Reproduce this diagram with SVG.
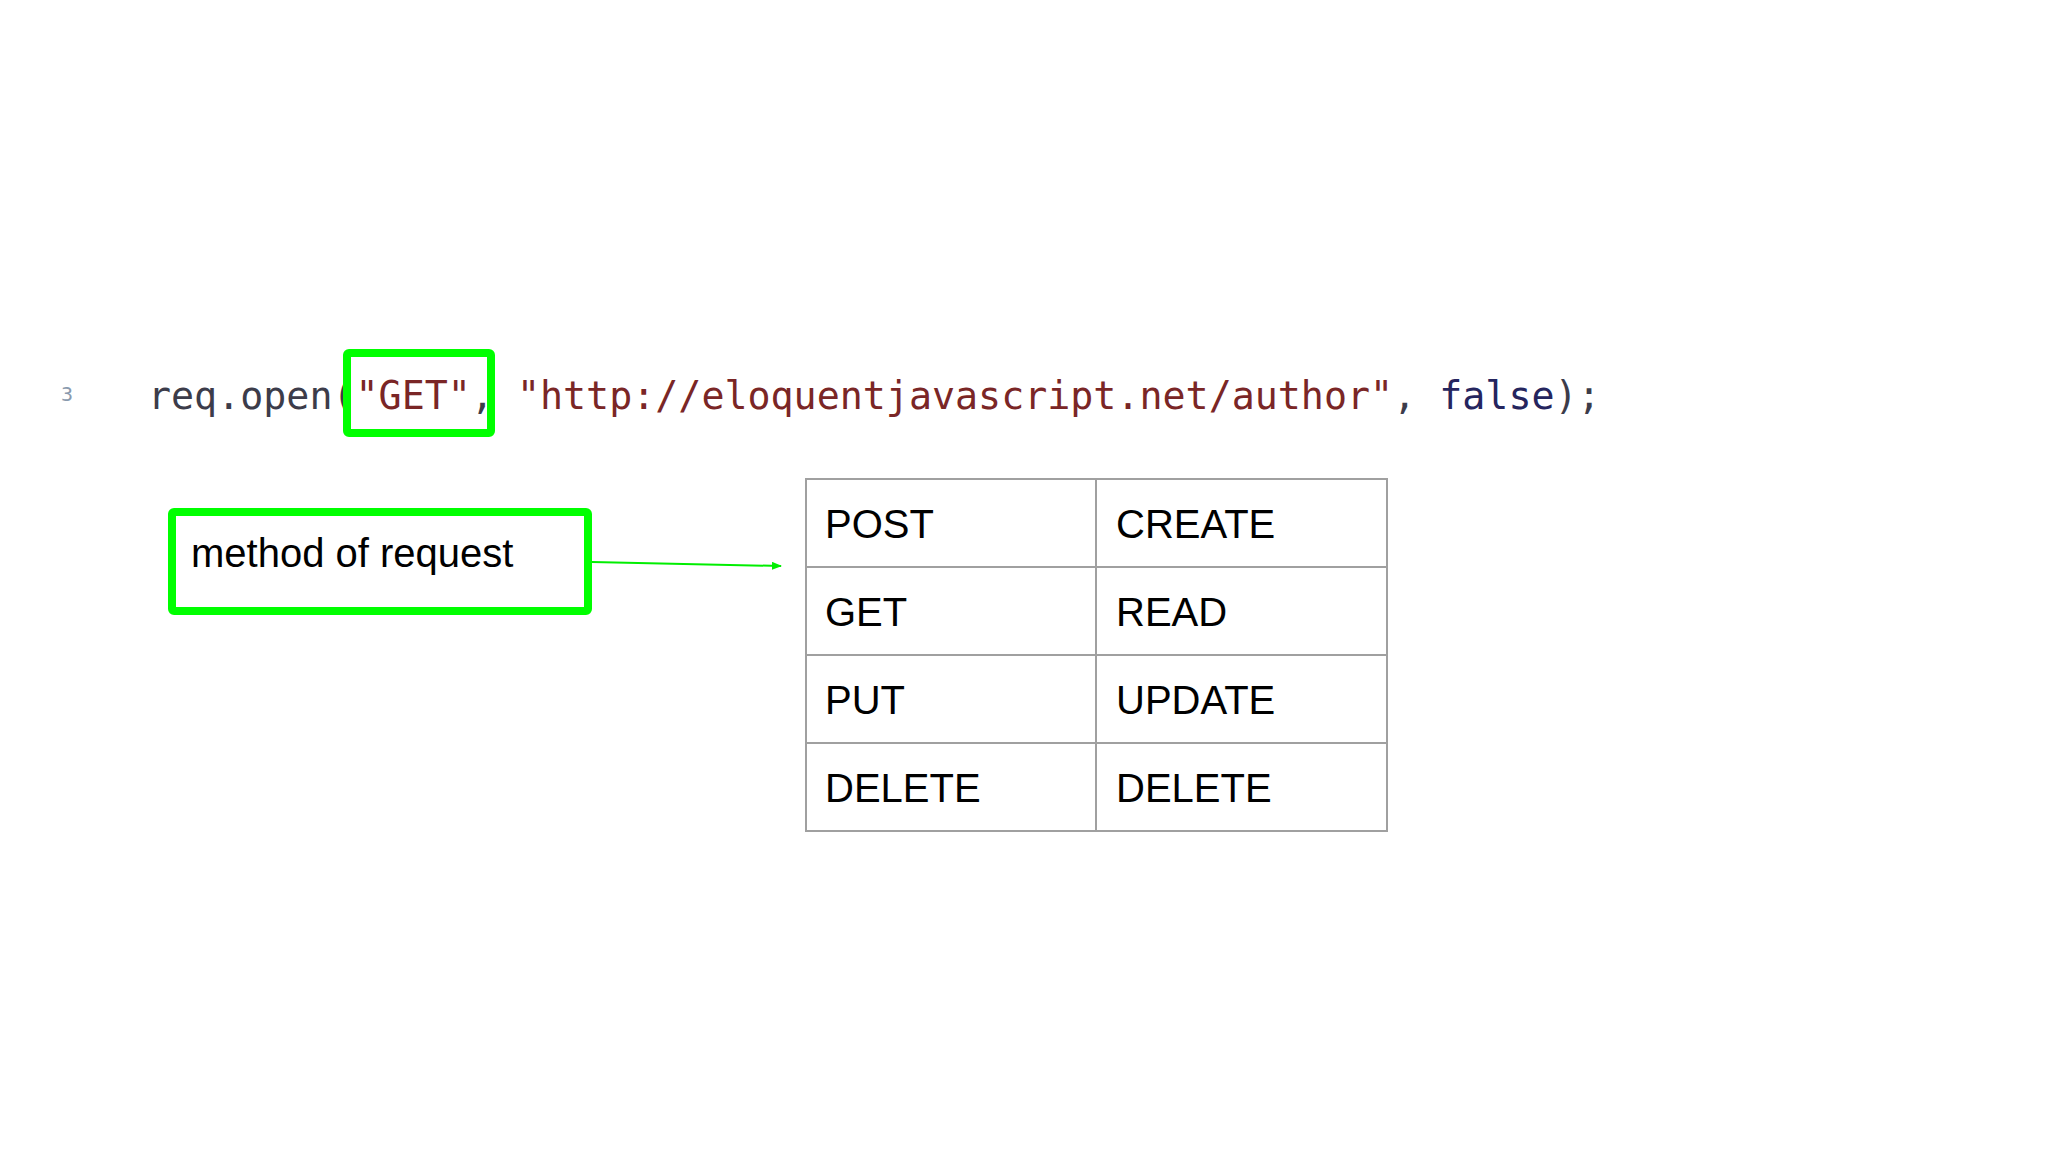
<svg xmlns="http://www.w3.org/2000/svg" width="2048" height="1152" viewBox="0 0 2048 1152">
  <style>
    .code { font-family: "DejaVu Sans Mono", "Liberation Mono", monospace; font-size: 38.3px; }
    .plain { fill: #3c3c4a; }
    .str { fill: #7a2626; }
    .kw { fill: #25255e; }
    .lbl { font-family: "Liberation Sans", Arial, sans-serif; font-size: 40px; fill: #000000; }
    .hl { fill: none; stroke: #00ff00; stroke-width: 8; }
    .cell { fill: #ffffff; stroke: #a0a0a0; stroke-width: 2; }
  </style>
  <defs>
    <marker id="arrow" markerWidth="10" markerHeight="8" refX="9" refY="4" orient="auto" markerUnits="userSpaceOnUse">
      <path d="M0,0 L10,4 L0,8 Z" fill="#00ee00"/>
    </marker>
  </defs>
  <rect width="2048" height="1152" fill="#ffffff"/>

  <g id="code-line">
    <text x="61" y="401" font-family="DejaVu Sans Mono, monospace" font-size="20" fill="#8a9aae">3</text>
    <text class="code" x="148" y="409"><tspan class="plain">req.open(</tspan><tspan class="str">"GET"</tspan><tspan class="plain">, </tspan><tspan class="str">"http://eloquentjavascript.net/author"</tspan><tspan class="plain">, </tspan><tspan class="kw">false</tspan><tspan class="plain">);</tspan></text>
  </g>

  <g id="get-highlight">
    <rect class="hl" x="347" y="353" width="144" height="80" rx="2"/>
  </g>

  <g id="method-label">
    <rect class="hl" x="172" y="512" width="416" height="99" rx="2"/>
    <text class="lbl" x="191" y="567">method of request</text>
  </g>

  <g id="connectors">
    <line x1="592" y1="562" x2="781" y2="566" stroke="#00ee00" stroke-width="2" marker-end="url(#arrow)"/>
  </g>

  <g id="methods-table">
    <rect class="cell" x="806" y="479" width="290" height="88"/>
    <rect class="cell" x="1096" y="479" width="291" height="88"/>
    <rect class="cell" x="806" y="567" width="290" height="88"/>
    <rect class="cell" x="1096" y="567" width="291" height="88"/>
    <rect class="cell" x="806" y="655" width="290" height="88"/>
    <rect class="cell" x="1096" y="655" width="291" height="88"/>
    <rect class="cell" x="806" y="743" width="290" height="88"/>
    <rect class="cell" x="1096" y="743" width="291" height="88"/>
    <text class="lbl" x="825" y="538">POST</text>
    <text class="lbl" x="1116" y="538">CREATE</text>
    <text class="lbl" x="825" y="626">GET</text>
    <text class="lbl" x="1116" y="626">READ</text>
    <text class="lbl" x="825" y="714">PUT</text>
    <text class="lbl" x="1116" y="714">UPDATE</text>
    <text class="lbl" x="825" y="802">DELETE</text>
    <text class="lbl" x="1116" y="802">DELETE</text>
  </g>
</svg>
